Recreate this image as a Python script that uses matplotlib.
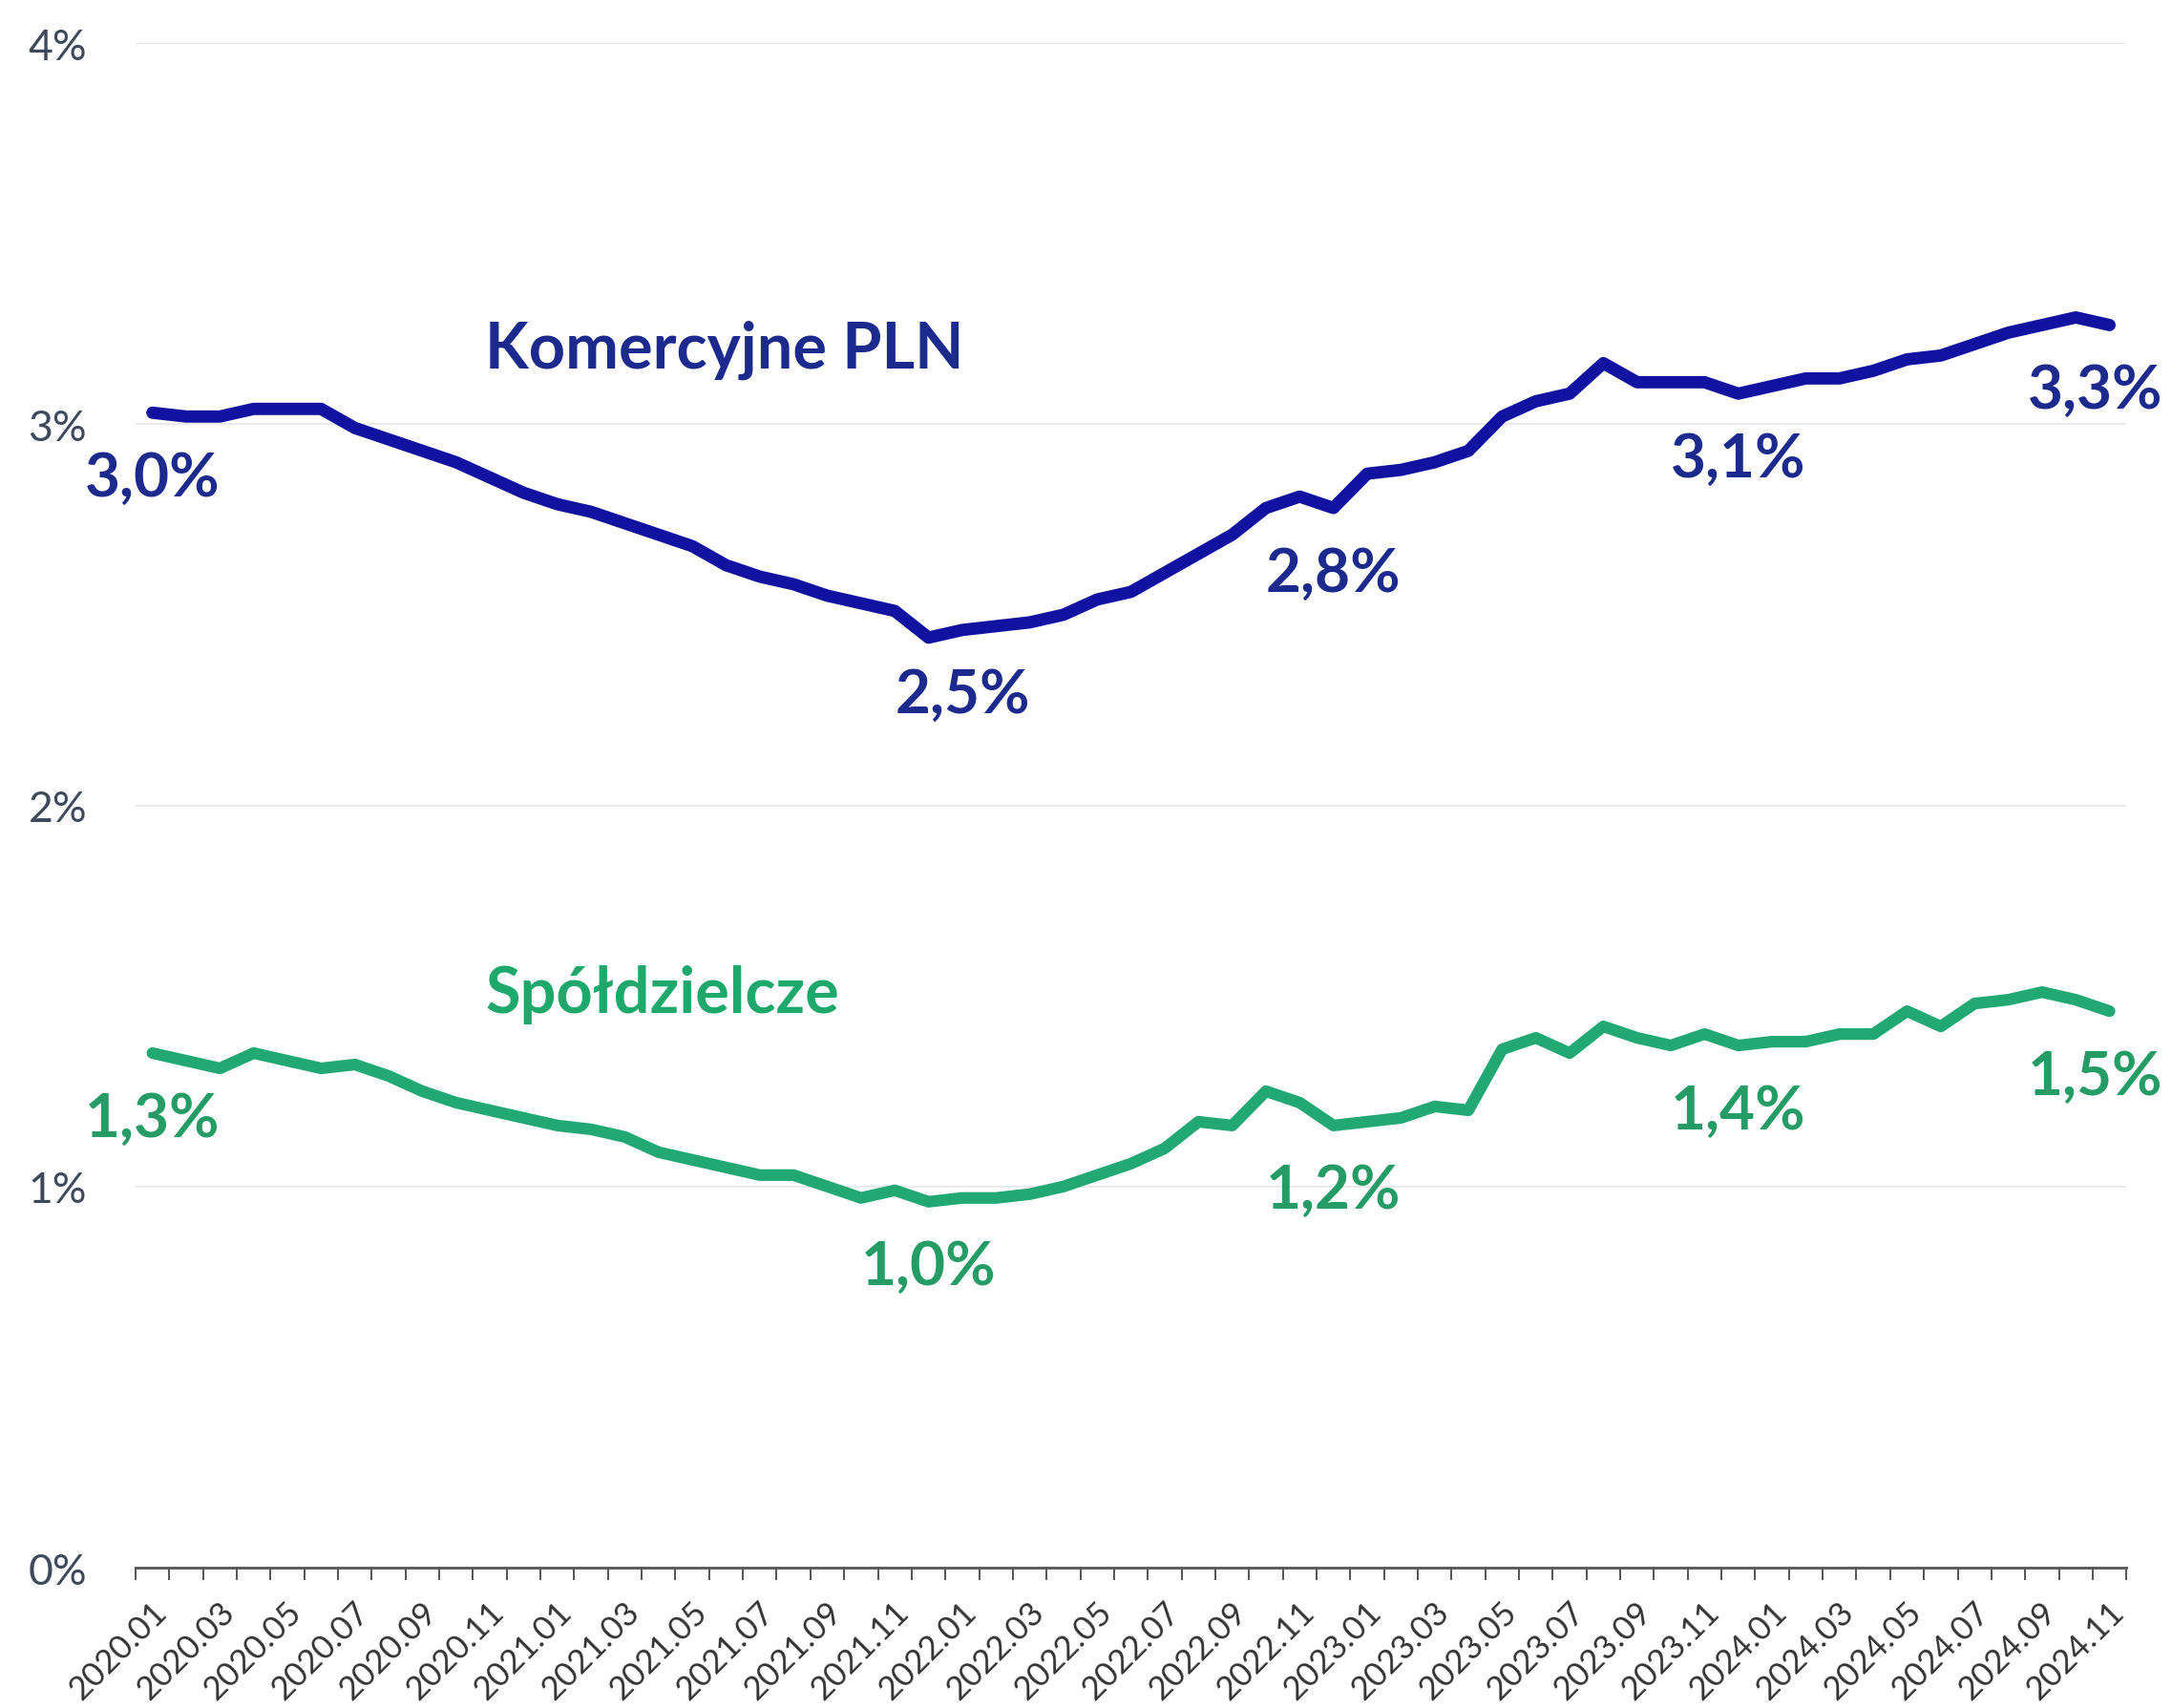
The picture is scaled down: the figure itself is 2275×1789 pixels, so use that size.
import matplotlib
matplotlib.use("Agg")
import matplotlib.pyplot as plt
from matplotlib.transforms import ScaledTranslation
import numpy as np

plt.rcParams['font.family'] = ['Lato', 'DejaVu Sans']

# ---- data ----
years = [2020, 2021, 2022, 2023, 2024]
months = [f"{y}.{m:02d}" for y in years for m in range(1, 13)][:59]   # 2020.01 .. 2024.11

komercyjne = [3.03, 3.02, 3.02, 3.04, 3.04, 3.04, 2.99, 2.96, 2.93, 2.90, 2.86, 2.82,
              2.79, 2.77, 2.74, 2.71, 2.68, 2.63, 2.60, 2.58, 2.55, 2.53, 2.51, 2.44,
              2.46, 2.47, 2.48, 2.50, 2.54, 2.56, 2.61, 2.66, 2.71, 2.78, 2.81, 2.78,
              2.87, 2.88, 2.90, 2.93, 3.02, 3.06, 3.08, 3.16, 3.11, 3.11, 3.11, 3.08,
              3.10, 3.12, 3.12, 3.14, 3.17, 3.18, 3.21, 3.24, 3.26, 3.28, 3.26]

spoldzielcze = [1.35, 1.33, 1.31, 1.35, 1.33, 1.31, 1.32, 1.29, 1.25, 1.22, 1.20, 1.18,
                1.16, 1.15, 1.13, 1.09, 1.07, 1.05, 1.03, 1.03, 1.00, 0.97, 0.99, 0.96,
                0.97, 0.97, 0.98, 1.00, 1.03, 1.06, 1.10, 1.17, 1.16, 1.25, 1.22, 1.16,
                1.17, 1.18, 1.21, 1.20, 1.36, 1.39, 1.35, 1.42, 1.39, 1.37, 1.40, 1.37,
                1.38, 1.38, 1.40, 1.40, 1.46, 1.42, 1.48, 1.49, 1.51, 1.49, 1.46]

yticks = [0, 1, 2, 3, 4]
ytick_labels = ["0%", "1%", "2%", "3%", "4%"]

series_names = ["Komercyjne PLN", "Spółdzielcze"]
# data labels: (index, text)
kom_labels = [(0, "3,0%"), (24, "2,5%"), (35, "2,8%"), (47, "3,1%"), (58, "3,3%")]
spol_labels = [(0, "1,3%"), (23, "1,0%"), (35, "1,2%"), (47, "1,4%"), (58, "1,5%")]

# ---- styling ----
BLUE_LINE = "#1212a0"
BLUE_TEXT = "#1b2a8c"
GREEN_LINE = "#22a872"
GREEN_TEXT = "#259b66"
GREEN_TITLE = "#1fa86c"

fig = plt.figure(figsize=(22.75, 17.90), dpi=100)
ax = fig.add_axes([0.0624, 0.0821, 0.9166, 0.8922])

x = np.arange(len(months))
ax.plot(x, komercyjne, color=BLUE_LINE, lw=9.3, solid_joinstyle='round',
        solid_capstyle='round', zorder=3)
ax.plot(x, spoldzielcze, color=GREEN_LINE, lw=8.8, solid_joinstyle='round',
        solid_capstyle='round', zorder=3)

ax.set_xlim(-0.5, len(months) - 0.5)
ax.set_ylim(0, 4)

# y axis
ax.set_yticks(yticks)
ax.set_yticklabels(ytick_labels, fontsize=32, color="#3e4a5c")
ax.tick_params(axis='y', length=0, pad=81)
for lbl in ax.get_yticklabels():
    lbl.set_horizontalalignment('left')
for yv in yticks[1:]:
    ax.axhline(yv, color="#e9e9e9", lw=1.3, zorder=1)

# x axis
ax.set_xticks(x[::2])
ax.set_xticklabels(months[::2], rotation=45, ha='right', va='center',
                   rotation_mode='anchor', fontsize=25, color="#333333")
ax.set_xticks(np.arange(-0.5, len(months) + 0.5, 1), minor=True)
ax.tick_params(axis='x', which='major', length=0, pad=29)
ax.tick_params(axis='x', which='minor', length=9, width=1.4, color="#555555",
               direction='out')
shift = ScaledTranslation(10 / 100, 0, fig.dpi_scale_trans)
for lbl in ax.get_xticklabels():
    lbl.set_transform(lbl.get_transform() + shift)

for s in ['top', 'right', 'left']:
    ax.spines[s].set_visible(False)
ax.spines['bottom'].set_color("#555555")
ax.spines['bottom'].set_linewidth(2.0)

# series titles
ax.text(9.86, 3.196, series_names[0], fontsize=48,
        fontweight='bold', color=BLUE_TEXT, ha='left', va='center')
ax.text(9.86, 1.505, series_names[1], fontsize=48,
        fontweight='bold', color=GREEN_TITLE, ha='left', va='center')

# data labels
def put_labels(vals, labels, color):
    for i, txt in labels:
        dx = -15 if i == len(vals) - 1 else 0
        ax.annotate(txt, xy=(i, vals[i]), xytext=(dx, -68), textcoords='offset pixels',
                    ha='center', va='center', fontsize=46, fontweight='bold',
                    color=color, zorder=4)

put_labels(komercyjne, kom_labels, BLUE_TEXT)
put_labels(spoldzielcze, spol_labels, GREEN_TEXT)

fig.savefig("out.png", dpi=100, facecolor='white')
